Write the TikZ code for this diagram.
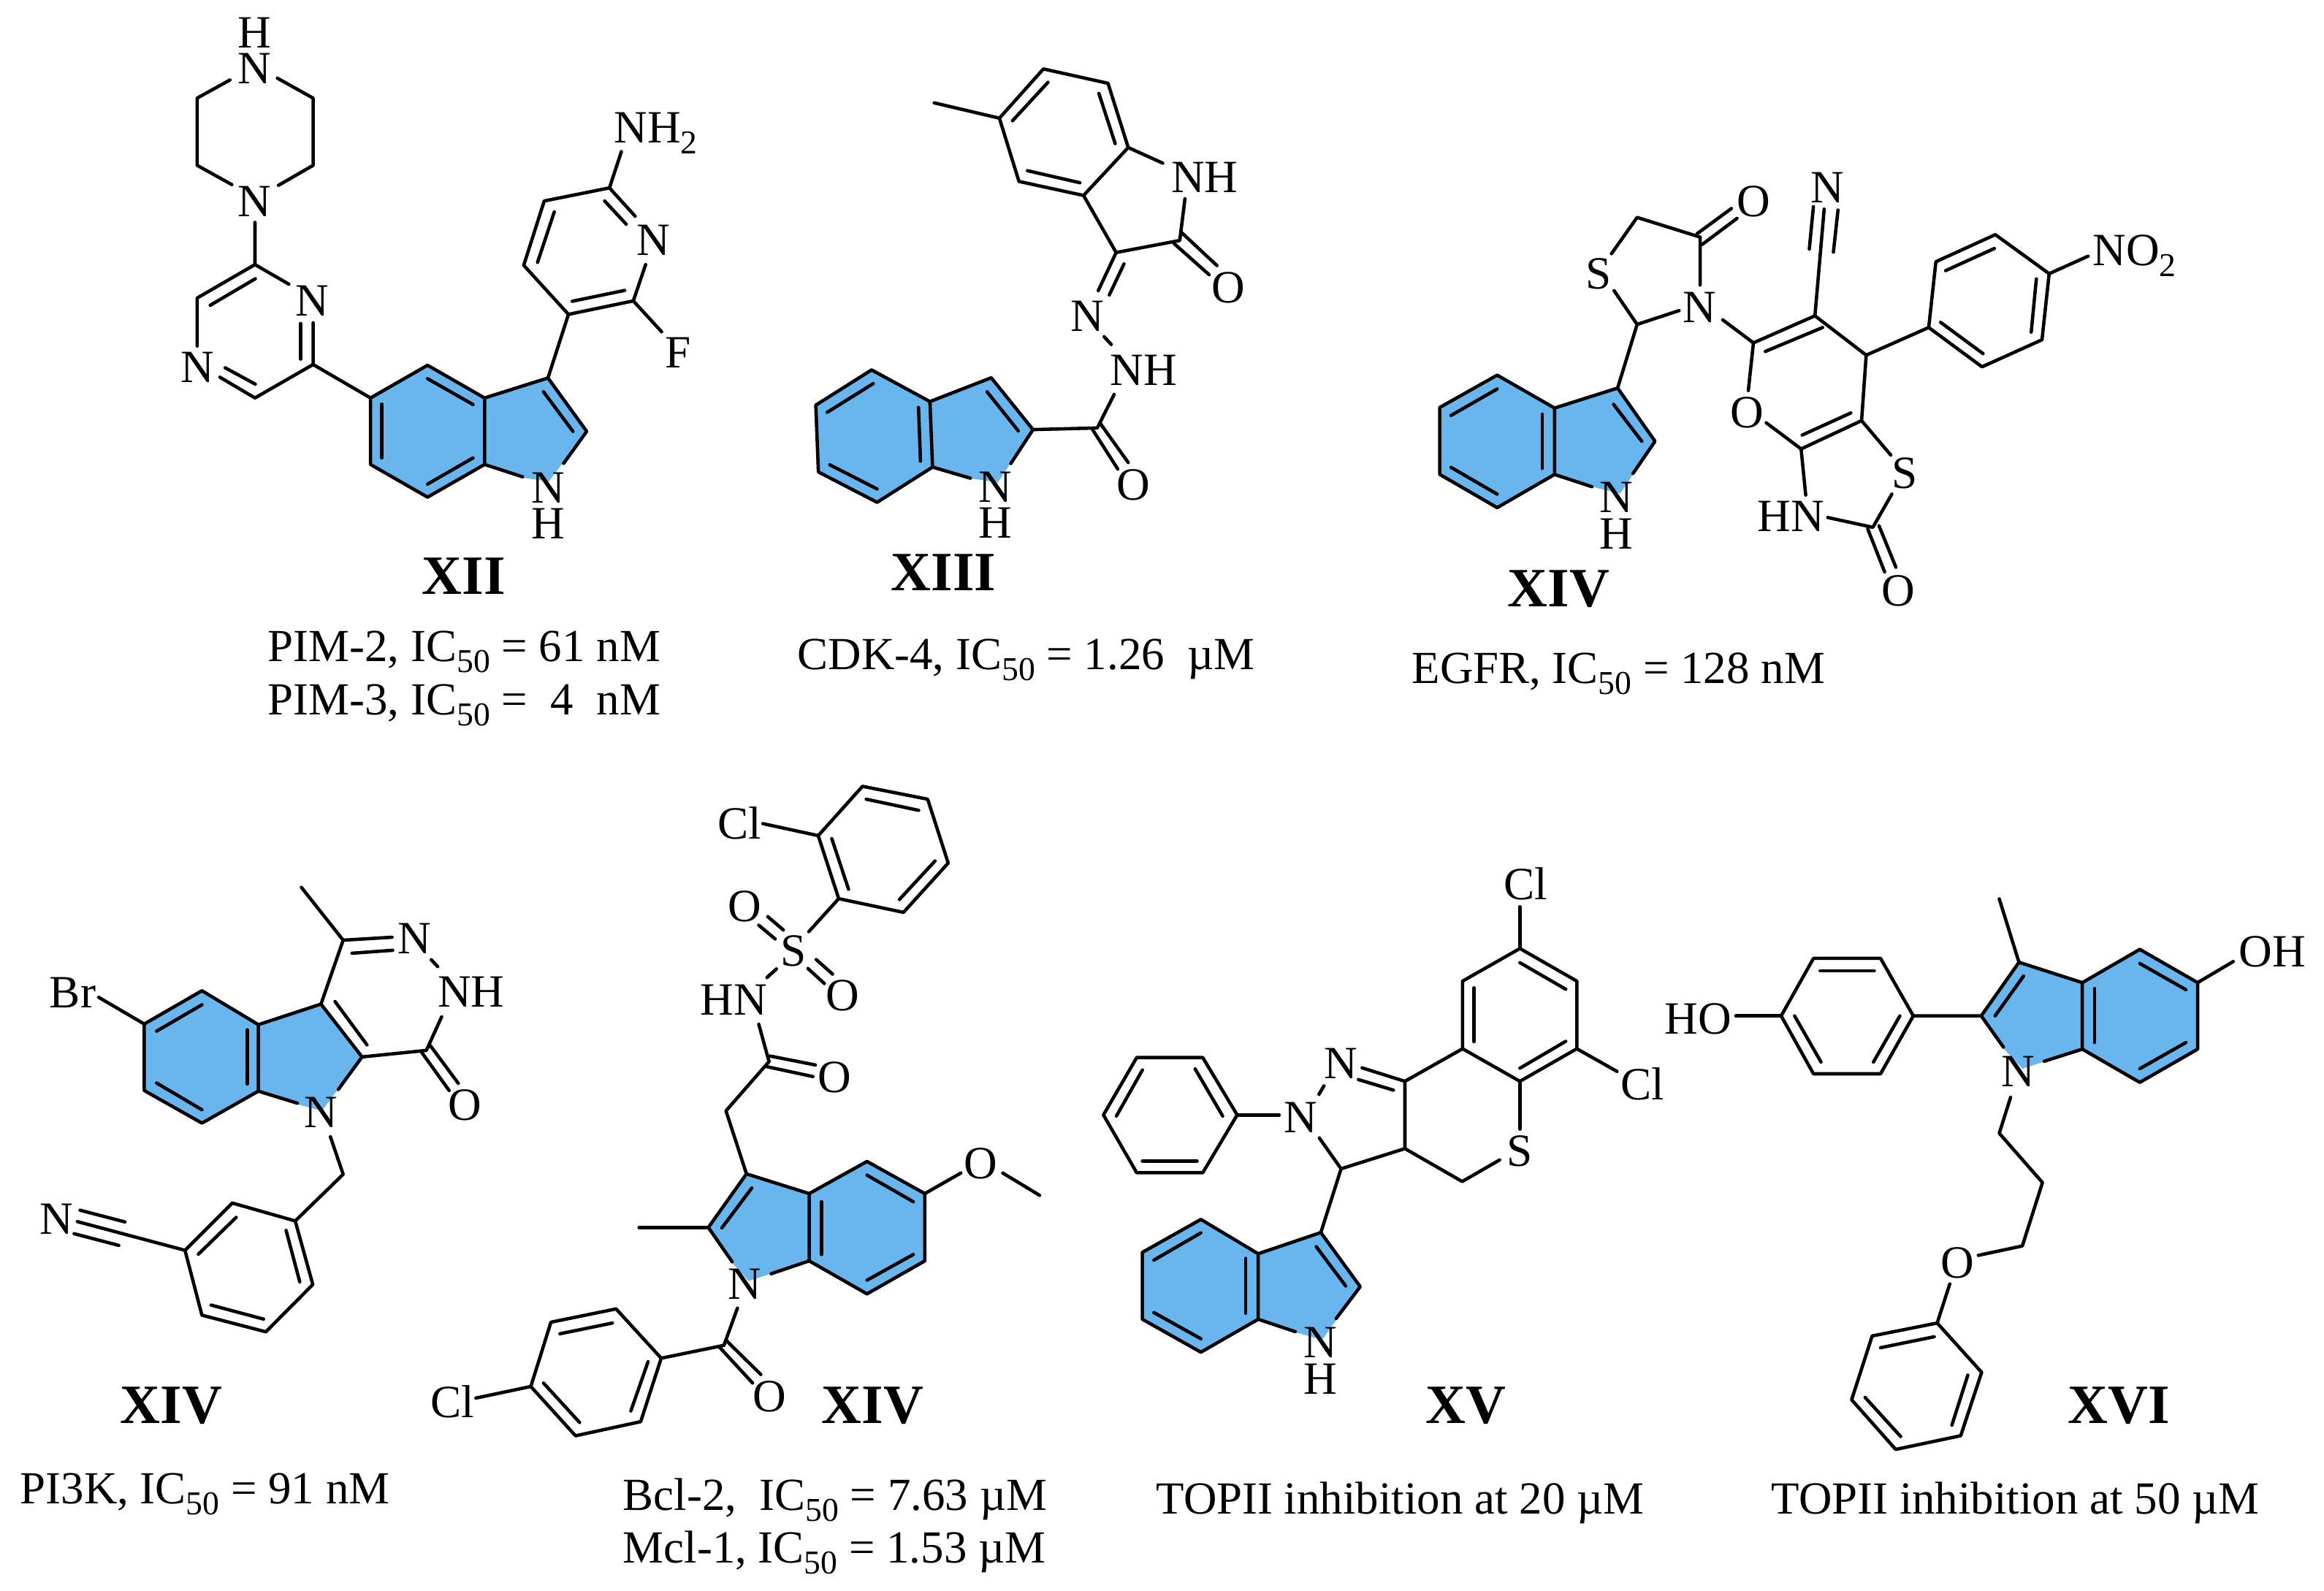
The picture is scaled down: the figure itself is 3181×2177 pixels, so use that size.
\documentclass[tikz,border=0pt]{standalone}
\usepackage{fontspec}
\setmainfont{Liberation Serif}
\definecolor{ringblue}{HTML}{69B6EE}
\newcommand{\subs}[1]{\raisebox{-4.3pt}{\fontsize{13}{13}\selectfont #1}}
\newcommand{\icf}{IC\subs{50}}
\tikzset{
  frag/.style n args={4}{shift={(#1,#2)},x=#3pt,y=-#4pt},
  bond/.style={draw=black,line width=1.3pt,line join=round,line cap=round},
  ringfill/.style={fill=ringblue,draw=none},
  atom/.style={inner sep=0pt,outer sep=0pt,anchor=base,font=\fontsize{18}{18}\selectfont},
  atoml/.style={atom,anchor=base west},
  caption/.style={inner sep=0pt,anchor=base west,font=\fontsize{17.9}{18}\selectfont},
  tag/.style={inner sep=0pt,anchor=base west,font=\fontsize{21.6}{22}\selectfont\bfseries}
}
\begin{document}
\begin{tikzpicture}[x=0.28453pt,y=-0.28453pt]
\fill[white] (0,0) rectangle (3181,2177);
\useasboundingbox (0,0) rectangle (3181,2177);

%% XII
\begin{scope}[frag={200}{0}{0.14517}{0.14156}]
\fill[ringfill] (602,1095)--(755,1005)--(908,1095)--(1078,1040)--(1182,1187)--(1080,1325)--(1015,1315)--(908,1278)--(755,1368)--(602,1278)--cycle;
\draw[bond] (225,220)--(137,270)--(137,455)--(230,508);
\draw[bond] (352,215)--(448,270)--(448,455)--(355,510);
\draw[bond] (292,612)--(292,728)--(137,820)--(137,952);
\draw[bond] (172,840)--(293,767);
\draw[bond] (292,728)--(383,782);
\draw[bond] (448,888)--(448,1003)--(292,1095)--(198,1038);
\draw[bond] (415,890)--(415,988);
\draw[bond] (293,1057)--(212,1012);
\draw[bond] (448,1003)--(602,1095);
\draw[bond] (602,1095)--(755,1005)--(908,1095)--(908,1278)--(755,1368)--(602,1278)--cycle;
\draw[bond] (755,1042)--(877,1113);
\draw[bond] (632,1112)--(632,1260);
\draw[bond] (755,1332)--(877,1260);
\draw[bond] (908,1095)--(1078,1040)--(1182,1187)--(1120,1275);
\draw[bond] (1066,1078)--(1145,1187);
\draw[bond] (908,1278)--(1010,1312);
\draw[bond] (1078,1040)--(1133,865)--(1307,828)--(1340,728);
\draw[bond] (1143,829)--(1284,799);
\draw[bond] (1133,865)--(1013,730)--(1068,553)--(1243,517)--(1312,595);
\draw[bond] (1050,722)--(1095,583);
\draw[bond] (1230,553)--(1288,617);
\draw[bond] (1243,517)--(1275,417);
\draw[bond] (1307,828)--(1383,913);
\node[atom] (a1) at (291,132) {H};
\node[atom] (a2) at (291,230) {N};
\node[atom] (a3) at (291,596) {N};
\node[atom] (a4) at (445,870) {N};
\node[atom] (a5) at (137,1052) {N};
\node[atom] (a6) at (1078,1384) {N};
\node[atom] (a7) at (1078,1482) {H};
\node[atom] (a8) at (1360,702) {N};
\node[atoml] (a9) at (1255,392) {NH\subs{2}};
\node[atoml] (a10) at (1393,1012) {F};
\end{scope}

%% XIII
\begin{scope}[frag={1080}{60}{0.12702}{0.12702}]
\fill[ringfill] (82,1108)--(253,1000)--(432,1097)--(620,1024)--(748,1183)--(640,1345)--(560,1333)--(440,1298)--(270,1406)--(90,1313)--cycle;
\draw[bond] (445,181)--(645,228);
\draw[bond] (645,228)--(780,77)--(978,121)--(1040,318)--(903,465)--(705,422)--cycle;
\draw[bond] (685,236)--(794,118);
\draw[bond] (950,152)--(1000,306);
\draw[bond] (731,389)--(892,426);
\draw[bond] (1040,318)--(1146,366);
\draw[bond] (1214,475)--(1198,603)--(1003,640)--(903,465);
\draw[bond] (1205,580)--(1312,680);
\draw[bond] (1180,612)--(1288,708);
\draw[bond] (1003,640)--(948,757);
\draw[bond] (1027,675)--(982,770);
\draw[bond] (966,898)--(988,922);
\draw[bond] (997,1075)--(945,1178)--(748,1183);
\draw[bond] (955,1165)--(1040,1284);
\draw[bond] (930,1182)--(1008,1304);
\draw[bond] (82,1108)--(253,1000)--(432,1097)--(440,1298)--(270,1406)--(90,1313)--cycle;
\draw[bond] (117,1130)--(258,1042);
\draw[bond] (397,1115)--(403,1280);
\draw[bond] (125,1291)--(270,1365);
\draw[bond] (432,1097)--(620,1024)--(748,1183)--(680,1287);
\draw[bond] (607,1067)--(703,1187);
\draw[bond] (440,1298)--(556,1332);
\node[atoml] (b1) at (1172,456) {NH};
\node[atom] (b2) at (1347,795) {O};
\node[atom] (b3) at (915,882) {N};
\node[atoml] (b4) at (985,1047) {NH};
\node[atom] (b5) at (1055,1400) {O};
\node[atom] (b6) at (633,1406) {N};
\node[atom] (b7) at (633,1515) {H};
\end{scope}

%% XIV top
\begin{scope}[frag={1930}{200}{0.19960}{0.11975}]
\fill[ringfill] (58,850)--(170,745)--(282,852)--(405,787)--(478,960)--(410,1130)--(360,1110)--(282,1068)--(170,1176)--(58,1068)--cycle;
\draw[bond] (58,850)--(170,745)--(282,852)--(282,1068)--(170,1176)--(58,1068)--cycle;
\draw[bond] (80,876)--(170,790);
\draw[bond] (258,872)--(258,1048);
\draw[bond] (80,1045)--(170,1132);
\draw[bond] (282,852)--(405,787)--(478,960)--(435,1065);
\draw[bond] (397,840)--(452,960);
\draw[bond] (282,1068)--(355,1108);
\draw[bond] (405,787)--(443,580)--(398,470);
\draw[bond] (393,350)--(443,232)--(566,296)--(566,452);
\draw[bond] (560,285)--(627,203);
\draw[bond] (570,320)--(638,235);
\draw[bond] (443,580)--(525,535);
\draw[bond] (610,565)--(670,640)--(790,552)--(890,680)--(881,893)--(763,985)--(695,900);
\draw[bond] (693,668)--(805,590);
\draw[bond] (765,940)--(860,868);
\draw[bond] (670,640)--(660,795);
\draw[bond] (790,552)--(808,205);
\draw[bond] (787,197)--(779,335);
\draw[bond] (835,208)--(826,345);
\draw[bond] (890,680)--(1012,590);
\draw[bond] (1012,590)--(1026,376)--(1142,288)--(1247,415)--(1233,630)--(1116,718)--cycle;
\draw[bond] (1045,405)--(1140,333);
\draw[bond] (1222,432)--(1212,605);
\draw[bond] (1035,573)--(1118,675);
\draw[bond] (1247,415)--(1323,358);
\draw[bond] (881,893)--(938,1005);
\draw[bond] (940,1132)--(903,1240)--(815,1208);
\draw[bond] (763,985)--(772,1135);
\draw[bond] (893,1245)--(926,1385);
\draw[bond] (915,1235)--(948,1370);
\node[atom] (c1) at (403,1192) {N};
\node[atom] (c2) at (403,1310) {H};
\node[atom] (c3) at (368,465) {S};
\node[atom] (c4) at (670,230) {O};
\node[atom] (c5) at (565,573) {N};
\node[atom] (c6) at (657,915) {O};
\node[atom] (c7) at (815,183) {N};
\node[atoml] (c8) at (1332,388) {NO\subs{2}};
\node[atom] (c9) at (965,1112) {S};
\node[atoml] (c10) at (678,1253) {HN};
\node[atom] (c11) at (953,1495) {O};
\end{scope}

%% XIV left
\begin{scope}[frag={30}{1150}{0.12702}{0.12702}]
\fill[ringfill] (375,564)--(552,462)--(725,566)--(917,503)--(1043,665)--(920,830)--(845,810)--(725,770)--(552,868)--(375,768)--cycle;
\draw[bond] (235,482)--(375,564);
\draw[bond] (375,564)--(552,462)--(725,566)--(725,770)--(552,868)--(375,768)--cycle;
\draw[bond] (413,586)--(552,505);
\draw[bond] (691,582)--(691,748);
\draw[bond] (413,745)--(552,827);
\draw[bond] (725,566)--(917,503)--(1043,665)--(970,765);
\draw[bond] (725,770)--(845,807);
\draw[bond] (960,495)--(1058,628);
\draw[bond] (857,145)--(985,307)--(917,503);
\draw[bond] (985,307)--(1135,298);
\draw[bond] (1012,347)--(1137,338);
\draw[bond] (1255,367)--(1275,388);
\draw[bond] (1287,542)--(1240,645)--(1043,665);
\draw[bond] (1252,630)--(1338,746);
\draw[bond] (1225,650)--(1310,768);
\draw[bond] (946,910)--(985,1025)--(838,1168);
\draw[bond] (838,1168)--(645,1113)--(500,1258)--(552,1457)--(748,1508)--(892,1363)--cycle;
\draw[bond] (657,1157)--(541,1270);
\draw[bond] (580,1426)--(741,1469);
\draw[bond] (852,1355)--(810,1197);
\draw[bond] (500,1258)--(170,1170);
\draw[bond] (178,1135)--(316,1171);
\draw[bond] (160,1207)--(297,1243);
\node[atoml] (d1) at (85,515) {Br};
\node[atom] (d2) at (917,882) {N};
\node[atom] (d3) at (1203,348) {N};
\node[atoml] (d4) at (1275,512) {NH};
\node[atom] (d5) at (1358,860) {O};
\node[atom] (d6) at (105,1208) {N};
\end{scope}

%% XIV middle
\begin{scope}[frag={570}{1060}{0.15967}{0.16698}]
\fill[ringfill] (805,932)--(958,978)--(1099,903)--(1240,978)--(1240,1135)--(1099,1212)--(958,1135)--(810,1182)--(768,1137)--(712,1057)--cycle;
\draw[bond] (980,143)--(1088,28)--(1247,58)--(1297,207)--(1188,322)--(1030,290)--cycle;
\draw[bond] (1097,58)--(1225,84);
\draw[bond] (1265,202)--(1178,292);
\draw[bond] (1054,268)--(1013,150);
\draw[bond] (845,115)--(980,143);
\draw[bond] (1030,290)--(957,367);
\draw[bond] (857,332)--(895,363);
\draw[bond] (835,352)--(875,384);
\draw[bond] (975,432)--(1015,466);
\draw[bond] (955,453)--(995,488);
\draw[bond] (878,454)--(855,474);
\draw[bond] (835,583)--(860,670);
\draw[bond] (862,657)--(973,678);
\draw[bond] (855,682)--(967,705);
\draw[bond] (860,670)--(755,785)--(805,932);
\draw[bond] (865,1165)--(958,1135)--(958,978)--(805,932)--(712,1057)--(770,1137);
\draw[bond] (818,965)--(745,1058);
\draw[bond] (543,1057)--(712,1057);
\draw[bond] (958,978)--(1099,903)--(1240,978)--(1240,1135)--(1099,1212)--(958,1135);
\draw[bond] (1099,935)--(1212,997);
\draw[bond] (988,997)--(988,1120);
\draw[bond] (1099,1180)--(1212,1120);
\draw[bond] (1240,978)--(1328,930);
\draw[bond] (1430,930)--(1520,982);
\draw[bond] (783,1245)--(750,1332);
\draw[bond] (755,1320)--(840,1400);
\draw[bond] (738,1335)--(820,1420);
\draw[bond] (750,1332)--(597,1362);
\draw[bond] (597,1362)--(487,1247)--(328,1278)--(279,1428)--(388,1543)--(547,1510)--cycle;
\draw[bond] (478,1280)--(350,1305);
\draw[bond] (310,1420)--(398,1512);
\draw[bond] (523,1485)--(565,1370);
\draw[bond] (279,1428)--(145,1455);
\node[atoml] (e1) at (735,150) {Cl};
\node[atom] (e2) at (920,448) {S};
\node[atom] (e3) at (800,343) {O};
\node[atom] (e4) at (1040,552) {O};
\node[atoml] (e5) at (692,562) {HN};
\node[atom] (e6) at (1020,742) {O};
\node[atom] (e7) at (800,1224) {N};
\node[atom] (e8) at (1377,943) {O};
\node[atom] (e9) at (862,1487) {O};
\node[atoml] (e10) at (35,1500) {Cl};
\end{scope}

%% XV
\begin{scope}[frag={1480}{1170}{0.14881}{0.13792}]
\fill[ringfill] (160,1123)--(313,1030)--(463,1127)--(627,1067)--(730,1220)--(630,1370)--(565,1350)--(463,1312)--(313,1405)--(160,1312)--cycle;
\draw[bond] (998,548)--(998,357)--(1148,265)--(1297,357)--(1297,548)--(1148,640)--cycle;
\draw[bond] (1028,376)--(1028,528);
\draw[bond] (1148,305)--(1268,380);
\draw[bond] (1268,527)--(1148,603);
\draw[bond] (1148,147)--(1148,265);
\draw[bond] (1297,548)--(1402,612);
\draw[bond] (1148,640)--(1148,775);
\draw[bond] (1095,862)--(997,923)--(847,830)--(847,640)--(998,548);
\draw[bond] (847,640)--(735,602);
\draw[bond] (817,665)--(725,635);
\draw[bond] (635,653)--(622,677);
\draw[bond] (623,800)--(680,887)--(847,830);
\draw[bond] (408,735)--(518,735);
\draw[bond] (408,735)--(318,573)--(145,573)--(58,735)--(145,898)--(318,898)--cycle;
\draw[bond] (298,605)--(370,738);
\draw[bond] (160,608)--(92,738);
\draw[bond] (160,865)--(303,865);
\draw[bond] (680,887)--(627,1067);
\draw[bond] (160,1123)--(313,1030)--(463,1127)--(463,1312)--(313,1405)--(160,1312)--cycle;
\draw[bond] (190,1145)--(313,1068);
\draw[bond] (430,1140)--(430,1295);
\draw[bond] (190,1293)--(313,1367);
\draw[bond] (463,1127)--(627,1067)--(730,1220)--(667,1310);
\draw[bond] (615,1107)--(692,1218);
\draw[bond] (463,1312)--(560,1347);
\node[atom] (f1) at (1163,127) {Cl};
\node[atoml] (f2) at (1412,692) {Cl};
\node[atom] (f3) at (1147,880) {S};
\node[atom] (f4) at (680,632) {N};
\node[atom] (f5) at (575,784) {N};
\node[atom] (f6) at (625,1420) {N};
\node[atom] (f7) at (625,1523) {H};
\end{scope}

%% XVI
\begin{scope}[frag={2260}{1170}{0.16334}{0.15240}]
\fill[ringfill] (787,412)--(877,275)--(1028,327)--(1165,242)--(1303,327)--(1303,497)--(1165,582)--(1028,497)--(885,547)--(840,495)--cycle;
\draw[bond] (202,412)--(310,412);
\draw[bond] (310,412)--(387,265)--(547,265)--(625,412)--(547,560)--(387,560)--cycle;
\draw[bond] (403,297)--(532,297);
\draw[bond] (593,412)--(530,530);
\draw[bond] (342,412)--(405,530);
\draw[bond] (625,412)--(787,412)--(877,275)--(1028,327)--(1028,497)--(937,528);
\draw[bond] (820,412)--(888,310);
\draw[bond] (787,412)--(840,492);
\draw[bond] (830,113)--(877,275);
\draw[bond] (1028,327)--(1165,242)--(1303,327)--(1303,497)--(1165,582)--(1028,497);
\draw[bond] (1165,278)--(1275,345);
\draw[bond] (1057,342)--(1057,480);
\draw[bond] (1165,547)--(1275,480);
\draw[bond] (1303,327)--(1388,273);
\draw[bond] (857,620)--(830,712)--(933,838)--(885,1000)--(780,1024);
\draw[bond] (712,1097)--(682,1197);
\draw[bond] (682,1197)--(527,1230)--(478,1393)--(583,1520)--(738,1485)--(788,1323)--cycle;
\draw[bond] (547,1260)--(675,1232);
\draw[bond] (510,1387)--(595,1487);
\draw[bond] (717,1458)--(755,1330);
\node[atoml] (g1) at (32,458) {HO};
\node[atom] (g2) at (875,593) {N};
\node[atoml] (g3) at (1402,287) {OH};
\node[atom] (g4) at (730,1082) {O};
\end{scope}

%% compound tags
\node[tag] (t1) at (577,813) {XII};
\node[tag] (t2) at (1219,808) {XIII};
\node[tag] (t3) at (2063,830) {XIV};
\node[tag] (t4) at (164,1948) {XIV};
\node[tag] (t5) at (1124,1948) {XIV};
\node[tag] (t6) at (1951,1948) {XV};
\node[tag] (t7) at (2830,1948) {XVI};

%% activity captions
\node[caption] (k1) at (366,905) {PIM-2, \icf{} = 61 nM};
\node[caption] (k2) at (366,978) {PIM-3, \icf{} =\ \ 4\ \ nM};
\node[caption] (k3) at (1091,916) {CDK-4, \icf{} = 1.26\ \ µM};
\node[caption] (k4) at (1932,935) {EGFR, \icf{} = 128 nM};
\node[caption] (k5) at (27,2058) {PI3K, \icf{} = 91 nM};
\node[caption] (k6) at (852,2067) {Bcl-2,\ \ \icf{} = 7.63 µM};
\node[caption] (k7) at (852,2139) {Mcl-1, \icf{} = 1.53 µM};
\node[caption] (k8) at (1582,2072) {TOPII inhibition at 20 µM};
\node[caption] (k9) at (2424,2072) {TOPII inhibition at 50 µM};
\end{tikzpicture}
\end{document}
